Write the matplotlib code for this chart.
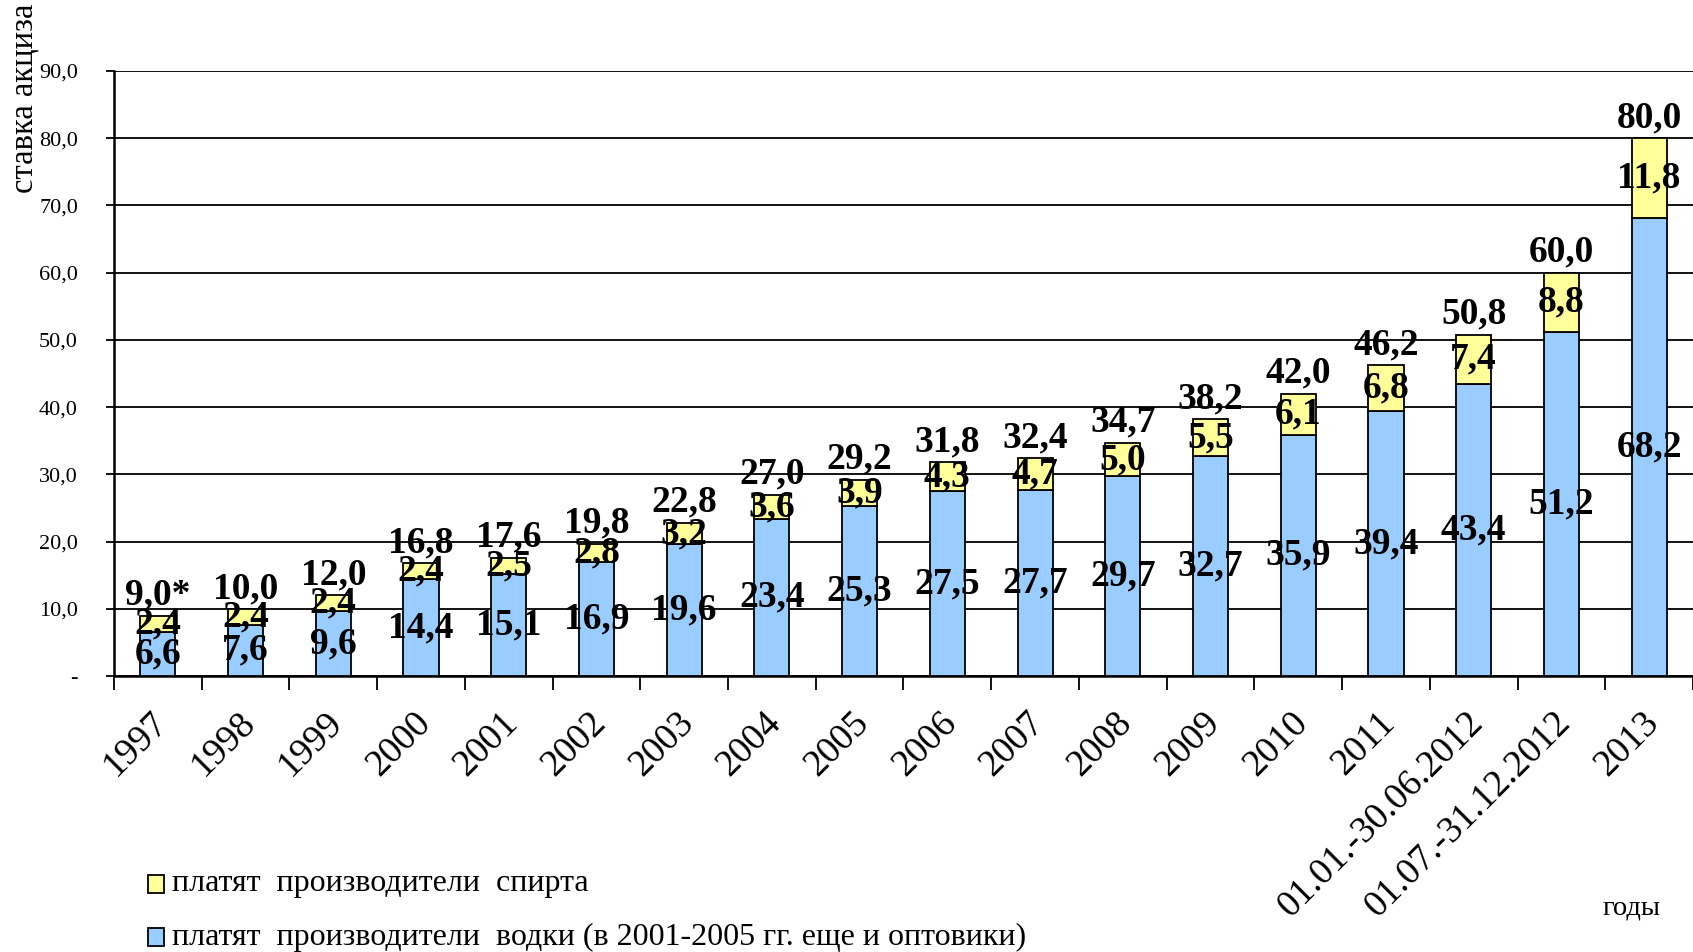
import matplotlib
matplotlib.use("Agg")
import matplotlib.pyplot as plt
import numpy as np
from matplotlib.patches import Rectangle

categories = ["1997", "1998", "1999", "2000", "2001", "2002", "2003", "2004", "2005",
              "2006", "2007", "2008", "2009", "2010", "2011",
              "01.01.-30.06.2012", "01.07.-31.12.2012", "2013"]
vodka = [6.6, 7.6, 9.6, 14.4, 15.1, 16.9, 19.6, 23.4, 25.3, 27.5, 27.7, 29.7,
         32.7, 35.9, 39.4, 43.4, 51.2, 68.2]
spirit = [2.4, 2.4, 2.4, 2.4, 2.5, 2.8, 3.2, 3.6, 3.9, 4.3, 4.7, 5.0, 5.5, 6.1,
          6.8, 7.4, 8.8, 11.8]
totals = ["9,0*", "10,0", "12,0", "16,8", "17,6", "19,8", "22,8", "27,0", "29,2",
          "31,8", "32,4", "34,7", "38,2", "42,0", "46,2", "50,8", "60,0", "80,0"]
yticks = [0, 10, 20, 30, 40, 50, 60, 70, 80, 90]
ytick_labels = ["-", "10,0", "20,0", "30,0", "40,0", "50,0", "60,0", "70,0", "80,0", "90,0"]

legend_spirit = "платят  производители  спирта"
legend_vodka = "платят  производители  водки (в 2001-2005 гг. еще и оптовики)"
ylabel = "ставка акциза"
xlabel = "годы"

plt.rcParams['font.family'] = ['Liberation Serif', 'DejaVu Serif']

W, H = 1693, 952
fig = plt.figure(figsize=(W / 100, H / 100), dpi=100)
ax = fig.add_axes([114 / W, 1 - 676 / H, 1 - 114 / W, (676 - 71) / H])

x = np.arange(len(categories))
bw = 0.4
ax.bar(x, vodka, bw, color="#99CCFF", edgecolor="black", linewidth=1.3, zorder=3)
ax.bar(x, spirit, bw, bottom=vodka, color="#FFFF99", edgecolor="black", linewidth=1.3, zorder=3)

fs = 27
for i in range(len(categories)):
    v, s = vodka[i], spirit[i]
    ax.text(x[i], v / 2, f"{v:.1f}".replace(".", ","), ha="center", va="center",
            fontsize=fs, fontweight="bold", zorder=5)
    ax.text(x[i], v + s / 2, f"{s:.1f}".replace(".", ","), ha="center", va="center",
            fontsize=fs, fontweight="bold", zorder=5)
    ax.annotate(totals[i], (x[i], v + s), xytext=(0, 2), textcoords="offset points",
                ha="center", va="bottom", fontsize=fs, fontweight="bold", zorder=5)

ax.set_xlim(-0.5, len(categories) - 0.5)
ax.set_ylim(0, 90)
ax.set_yticks(yticks)
ax.set_yticklabels(ytick_labels, fontsize=16)
ax.yaxis.grid(True, color="black", linewidth=1.3, zorder=0)
ax.set_axisbelow(True)
ax.tick_params(axis="y", length=6, width=1.3, pad=20)

ax.set_xticks(np.arange(len(categories) + 1) - 0.5)
ax.set_xticklabels([])
ax.tick_params(axis="x", length=10, width=1.3, direction="out")
for i, c in enumerate(categories):
    ax.annotate(c, (x[i], 0), xytext=(3, -30), textcoords="offset points",
                rotation=45, ha="right", va="center", rotation_mode="anchor",
                fontsize=27, annotation_clip=False)

for side in ["top", "right"]:
    ax.spines[side].set_visible(False)
ax.spines["left"].set_linewidth(1.8)
ax.spines["bottom"].set_linewidth(1.8)

fig.text(24 / W, 1 - 98 / H, ylabel, rotation=90, ha="center", va="center", fontsize=23.5)

# legend
for yy, col, txt in [(884, "#FFFF99", legend_spirit), (937, "#99CCFF", legend_vodka)]:
    fig.patches.append(Rectangle((148 / W, 1 - (yy + 9) / H), 16 / W, 18 / H,
                                 transform=fig.transFigure, facecolor=col,
                                 edgecolor="black", linewidth=1.3))
    fig.text(172 / W, 1 - yy / H, txt, ha="left", va="center", fontsize=23)

fig.text(1631 / W, 1 - 908 / H, xlabel, ha="center", va="center", fontsize=20.5)

fig.savefig("out.png", dpi=100)
